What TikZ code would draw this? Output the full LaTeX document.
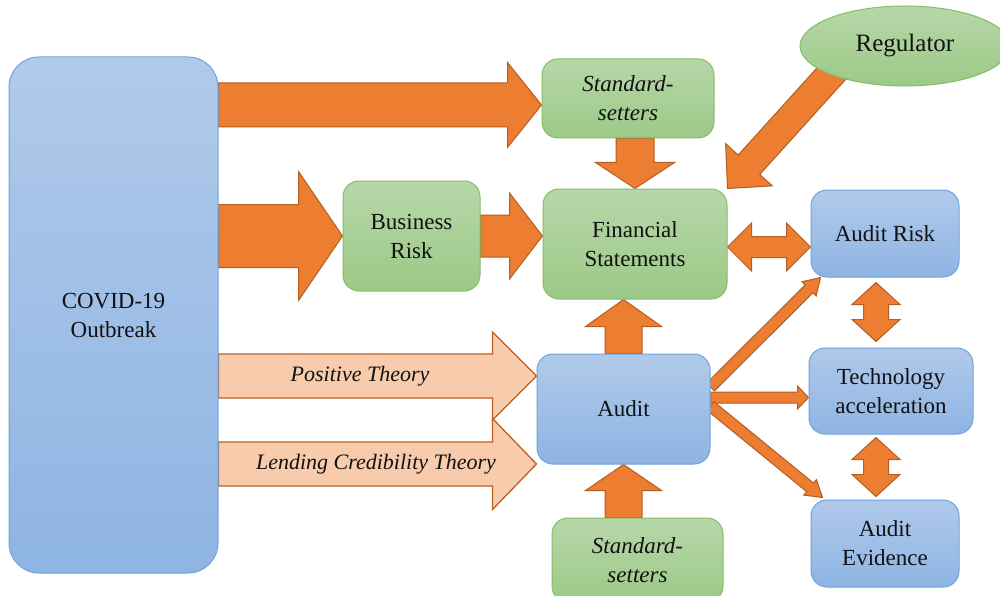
\documentclass[tikz,border=0pt]{standalone}
\usepackage{fontspec}
\setmainfont{Liberation Serif}
\usetikzlibrary{calc,shapes.geometric}

\pgfdeclarelayer{back}
\pgfsetlayers{back,main}

\definecolor{orangefill}{HTML}{ED7D31}
\definecolor{orangeline}{HTML}{B35E22}
\definecolor{peachfill}{HTML}{F8CBAD}
\definecolor{peachline}{HTML}{C0601E}
\definecolor{greentop}{HTML}{B7D7A9}
\definecolor{greenbot}{HTML}{9CC987}
\definecolor{greenline}{HTML}{86BD63}
\definecolor{bluetop}{HTML}{B0CAEA}
\definecolor{bluebot}{HTML}{8EB4E3}
\definecolor{blueline}{HTML}{6EA3DB}
\definecolor{ink}{HTML}{111111}

% single-headed block arrow: style, tail, tip, half shaft width, half head width, head length
\newcommand\blockarrow[6]{%
  \coordinate (ba-s) at (#2);
  \coordinate (ba-e) at (#3);
  \coordinate (ba-h) at ($(ba-e)!#6pt!(ba-s)$);
  \draw[#1] ($(ba-s)!#4pt!90:(ba-e)$) -- ($(ba-h)!#4pt!90:(ba-e)$)
    -- ($(ba-h)!#5pt!90:(ba-e)$) -- (ba-e) -- ($(ba-h)!#5pt!-90:(ba-e)$)
    -- ($(ba-h)!#4pt!-90:(ba-e)$) -- ($(ba-s)!#4pt!-90:(ba-e)$) -- cycle;
}
% double-headed block arrow: style, tip A, tip B, half shaft width, half head width, head length
\newcommand\twinarrow[6]{%
  \coordinate (ba-s) at (#2);
  \coordinate (ba-e) at (#3);
  \coordinate (ba-h1) at ($(ba-s)!#6pt!(ba-e)$);
  \coordinate (ba-h2) at ($(ba-e)!#6pt!(ba-s)$);
  \draw[#1] (ba-s) -- ($(ba-h1)!#5pt!90:(ba-e)$) -- ($(ba-h1)!#4pt!90:(ba-e)$)
    -- ($(ba-h2)!#4pt!90:(ba-e)$) -- ($(ba-h2)!#5pt!90:(ba-e)$) -- (ba-e)
    -- ($(ba-h2)!#5pt!-90:(ba-e)$) -- ($(ba-h2)!#4pt!-90:(ba-e)$)
    -- ($(ba-h1)!#4pt!-90:(ba-e)$) -- ($(ba-h1)!#5pt!-90:(ba-e)$) -- cycle;
}

\tikzset{
  box/.style={rectangle, inner sep=0pt, align=center, text=ink,
    font=\fontsize{23}{29}\selectfont, line width=1pt},
  greenbox/.style={box, rounded corners=16pt, draw=greenline,
    top color=greentop, bottom color=greenbot},
  bluebox/.style={box, rounded corners=16pt, draw=blueline,
    top color=bluetop, bottom color=bluebot},
  bigarrow/.style={fill=orangefill, draw=orangeline, line width=1pt, line join=miter},
  theoryarrow/.style={fill=peachfill, draw=peachline, line width=1.3pt, line join=miter},
  theorytext/.style={inner sep=0pt, text=ink, font=\fontsize{22}{26}\selectfont\itshape},
}

\begin{document}
\begin{tikzpicture}[x=1pt,y=-1pt]
\useasboundingbox (0,0) rectangle (1000,596);

% boxes
\node[bluebox, rounded corners=30pt, minimum width=209pt, minimum height=516pt]
  (covid) at (113.5,315) {COVID-19\\Outbreak};
\node[greenbox, minimum width=172pt, minimum height=79pt]
  (ss1) at (628,98.5) {\itshape Standard-\\\itshape setters};
\node[greenbox, minimum width=137pt, minimum height=110pt]
  (br) at (411.5,236) {Business\\Risk};
\node[greenbox, minimum width=184pt, minimum height=110pt]
  (fs) at (635,244) {Financial\\Statements};
\node[ellipse, inner sep=0pt, minimum width=210pt, minimum height=80pt,
  draw=greenline, line width=1pt, top color=greentop, bottom color=greenbot,
  text=ink, font=\fontsize{25}{30}\selectfont]
  (reg) at (905,46) {Regulator};
\node[bluebox, minimum width=148pt, minimum height=87pt]
  (ar) at (885,233.5) {Audit Risk};
\node[bluebox, minimum width=164pt, minimum height=86pt]
  (tech) at (891,391) {Technology\\acceleration};
\node[bluebox, minimum width=148pt, minimum height=87pt]
  (ev) at (885,543.5) {Audit\\Evidence};
\node[bluebox, minimum width=173pt, minimum height=110pt]
  (audit) at (623.5,409) {Audit};
\node[greenbox, minimum width=171pt, minimum height=84pt]
  (ss2) at (637.5,560) {\itshape Standard-\\\itshape setters};

% connectors, kept underneath the boxes
\begin{pgfonlayer}{back}
  \fill[white] (0,0) rectangle (1000,596);

  \coordinate (t1) at ($(ss1.west)+(0,6.5)$);
  \blockarrow{bigarrow}{covid.east |- t1}{t1}{22}{42.5}{34}
  \blockarrow{bigarrow}{covid.east |- br.west}{br.west}{31.5}{64.5}{44}
  \blockarrow{bigarrow}{br.east}{fs.west |- br.east}{21}{43}{33}
  \blockarrow{bigarrow}{fs.north |- ss1.south}{fs.north}{19}{39.5}{26}
  \blockarrow{bigarrow}{$(fs.north east)!1.25!(reg.south west)$}{fs.north east}{14.5}{31.5}{32}
  \coordinate (t2) at ($(fs.east)+(0,3)$);
  \twinarrow{bigarrow}{t2}{ar.west |- t2}{10.5}{24}{24}
  \blockarrow{bigarrow}{audit.north}{fs.south -| audit.north}{18.5}{38}{27}
  \blockarrow{bigarrow}{ss2.north -| audit.south}{audit.south}{18.5}{38}{26}

  \coordinate (t3) at ($(audit.west)+(0,-33)$);
  \coordinate (t4) at ($(audit.west)+(0,55)$);
  \blockarrow{theoryarrow}{covid.east |- t3}{t3}{22}{44}{44}
  \blockarrow{theoryarrow}{covid.east |- t4}{t4}{22}{45.5}{44}

  \blockarrow{bigarrow}{$(audit.east)+(0,-22)$}{$(ar.south west)+(10,0)$}{5.5}{10}{16}
  \coordinate (t5) at ($(audit.east)+(0,-11.5)$);
  \blockarrow{bigarrow}{t5}{tech.west |- t5}{5.5}{11.5}{11}
  \blockarrow{bigarrow}{$(audit.east)+(0,-3)$}{$(ev.north west)+(12,-2)$}{5.5}{10}{16}

  \coordinate (v1) at ($(ar.south)+(-9,5)$);
  \twinarrow{bigarrow}{v1}{$(v1 |- tech.north)+(0,-6)$}{12.5}{24}{22}
  \twinarrow{bigarrow}{$(v1 |- tech.south)+(0,3)$}{$(v1 |- ev.north)+(0,-3)$}{12.5}{24}{22}
\end{pgfonlayer}

% theory labels
\node[theorytext] (pos) at (360,376) {Positive Theory};
\node[theorytext] (lend) at (376,464) {Lending Credibility Theory};
\end{tikzpicture}
\end{document}
